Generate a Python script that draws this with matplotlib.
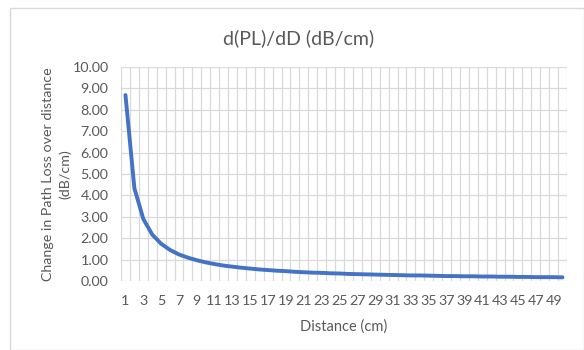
import numpy as np
import matplotlib
matplotlib.use('Agg')
import matplotlib.pyplot as plt

# distance categories (cm)
distancia = list(range(1, 51))

# d(PL)/dD (dB/cm)
pendiente = [8.69, 4.34, 2.90, 2.17, 1.74, 1.45, 1.24, 1.09, 0.97, 0.87,
             0.79, 0.72, 0.67, 0.62, 0.58, 0.54, 0.51, 0.48, 0.46, 0.43,
             0.41, 0.39, 0.38, 0.36, 0.35, 0.33, 0.32, 0.31, 0.30, 0.29,
             0.28, 0.27, 0.26, 0.26, 0.25, 0.24, 0.23, 0.23, 0.22, 0.22,
             0.21, 0.21, 0.20, 0.20, 0.19, 0.19, 0.18, 0.18, 0.18, 0.17]

etiquetasX = [str(d) for d in distancia]

plt.rcParams['font.family'] = ['Lato', 'DejaVu Sans']
gris = '#595959'

fig = plt.figure(figsize=(5.84, 3.5), dpi=100)
# marco exterior del grafico
fig.patches.append(plt.Rectangle((10 / 584, 0), 574 / 584, 342 / 350,
                                 transform=fig.transFigure, fill=False,
                                 edgecolor='#D9D9D9', linewidth=1))

ax = fig.add_axes([121 / 584, 1 - 281 / 350, (567 - 121) / 584, (281 - 67) / 350])

pos = np.arange(len(distancia))
ax.plot(pos, pendiente, color='#4472C4', linewidth=2.8, solid_capstyle='round')

ax.set_xlim(-0.5, len(distancia) - 0.5)
ax.set_ylim(0, 10)

# rejilla: lineas horizontales cada 1 y verticales entre categorias
for y in range(0, 11):
    ax.axhline(y, color='#D9D9D9', linewidth=0.9, zorder=0)
for x in np.arange(-0.5, len(distancia), 1):
    ax.axvline(x, color='#D9D9D9', linewidth=0.9, zorder=0)

ax.set_yticks(range(0, 11))
ax.set_yticklabels(['%.2f' % v for v in range(0, 11)])
ax.set_xticks(pos[::2])
ax.set_xticklabels(etiquetasX[::2])
ax.tick_params(length=0, colors=gris, labelsize=10.3)
ax.tick_params(axis='x', pad=10)
ax.tick_params(axis='y', pad=9)

for s in ax.spines.values():
    s.set_visible(False)

fig.text(299 / 584, 1 - 38 / 350, 'd(PL)/dD (dB/cm)', ha='center', va='center',
         fontsize=14, color=gris)
ax.set_xlabel('Distance (cm)', color=gris, fontsize=10.5, labelpad=9)
ax.set_ylabel('Change in Path Loss over distance\n(dB/cm)', color=gris, fontsize=10.3,
              labelpad=1, linespacing=1.4)

fig.savefig('out.png', dpi=100)
